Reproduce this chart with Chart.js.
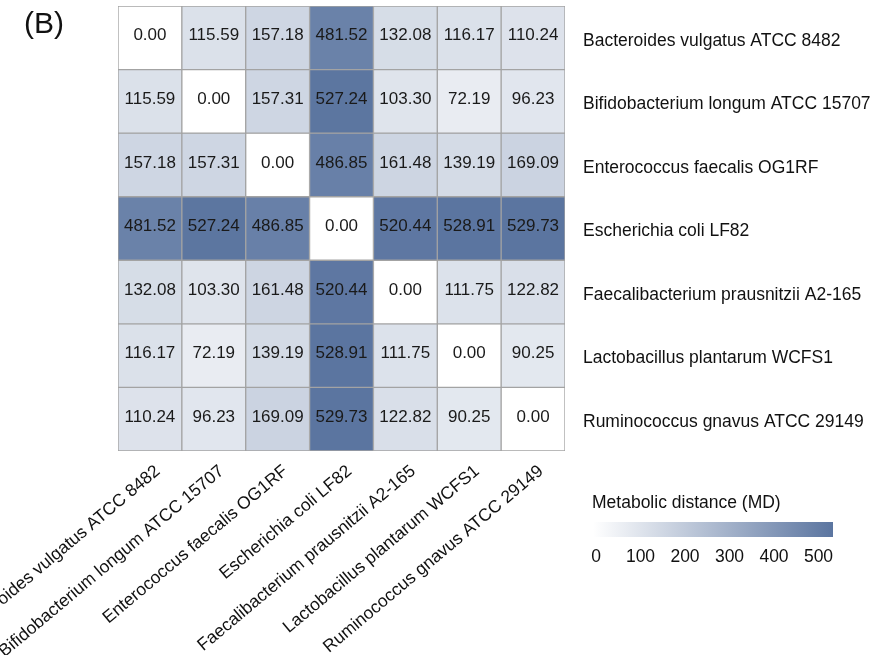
<!DOCTYPE html>
<html>
<head>
<meta charset="utf-8">
<script src="https://cdn.jsdelivr.net/npm/chart.js@4/dist/chart.umd.min.js"></script>
<style>
  html, body { margin: 0; padding: 0; background: #fff; }
  #wrap { position: relative; width: 892px; height: 655px; }
</style>
</head>
<body>
<div id="wrap"><canvas id="mdHeatmap"></canvas></div>
<script>
const strains = [
  'Bacteroides vulgatus ATCC 8482',
  'Bifidobacterium longum ATCC 15707',
  'Enterococcus faecalis OG1RF',
  'Escherichia coli LF82',
  'Faecalibacterium prausnitzii A2-165',
  'Lactobacillus plantarum WCFS1',
  'Ruminococcus gnavus ATCC 29149'
]

// metabolic distance, one row per strain
const mdBacteroides  = [0.00, 115.59, 157.18, 481.52, 132.08, 116.17, 110.24]
const mdBifido       = [115.59, 0.00, 157.31, 527.24, 103.30, 72.19, 96.23]
const mdEnterococcus = [157.18, 157.31, 0.00, 486.85, 161.48, 139.19, 169.09]
const mdEcoli        = [481.52, 527.24, 486.85, 0.00, 520.44, 528.91, 529.73]
const mdFaecali      = [132.08, 103.30, 161.48, 520.44, 0.00, 111.75, 122.82]
const mdLacto        = [116.17, 72.19, 139.19, 528.91, 111.75, 0.00, 90.25]
const mdRumino       = [110.24, 96.23, 169.09, 529.73, 122.82, 90.25, 0.00]

const mdRows = [mdBacteroides, mdBifido, mdEnterococcus, mdEcoli, mdFaecali, mdLacto, mdRumino]

const legendTicks = [0, 100, 200, 300, 400, 500]
const legendTitle = 'Metabolic distance (MD)'
const panelTag = '(B)'

const FONT = "'Liberation Sans', Arial, sans-serif"
const colorMax = 530
const lowCol = [255, 255, 255]
const highCol = [91, 117, 160]

function mdColor(v) {
  const t = Math.max(0, Math.min(1, v / colorMax))
  const c = lowCol.map((lo, k) => Math.round(lo + (highCol[k] - lo) * t))
  return `rgb(${c[0]},${c[1]},${c[2]})`
}

const datasets = mdRows.map((row, i) => ({
  label: strains[i],
  data: row.map(() => [i, i + 1]),
  md: row,
  backgroundColor: row.map(mdColor),
  borderColor: '#a3a3a3',
  borderWidth: 1,
  borderSkipped: false,
  barPercentage: 1,
  categoryPercentage: 1
}))

// numbers inside the cells
const cellText = {
  id: 'cellText',
  afterDatasetsDraw(chart) {
    const c = chart.ctx
    c.save()
    c.font = `17px ${FONT}`
    c.fillStyle = '#1a1a1a'
    c.textAlign = 'center'
    c.textBaseline = 'middle'
    chart.data.datasets.forEach((ds, i) => {
      chart.getDatasetMeta(i).data.forEach((el, j) => {
        const p = el.getCenterPoint()
        c.fillText(ds.md[j].toFixed(2), p.x, p.y - 2)
      })
    })
    c.restore()
  }
}

// colour bar + panel letter
const colorBar = {
  id: 'colorBar',
  afterDraw(chart) {
    const c = chart.ctx
    const a = chart.chartArea
    const x0 = a.right + 28
    const w = 240
    const top = 522
    const h = 15
    c.save()
    const g = c.createLinearGradient(x0, 0, x0 + w, 0)
    g.addColorStop(0, mdColor(0))
    g.addColorStop(1, mdColor(colorMax))
    c.fillStyle = g
    c.fillRect(x0, top, w, h)

    c.fillStyle = '#111'
    c.font = `17.5px ${FONT}`
    c.textBaseline = 'middle'
    c.textAlign = 'left'
    c.fillText(legendTitle, x0 - 1, top - 19)
    c.textAlign = 'center'
    legendTicks.forEach(v => {
      c.fillText(String(v), x0 + 3 + v / 500 * 222.5, top + 35)
    })

    c.font = `30px ${FONT}`
    c.textAlign = 'left'
    c.fillText(panelTag, 24, 25)
    c.restore()
  }
}

new Chart(document.getElementById('mdHeatmap'), {
  type: 'bar',
  data: { labels: strains, datasets: datasets },
  options: {
    responsive: true,
    maintainAspectRatio: false,
    animation: false,
    layout: { padding: { left: 118, top: 6, right: 0, bottom: 0 } },
    plugins: { legend: { display: false }, tooltip: { enabled: false } },
    scales: {
      x: {
        stacked: true,
        grid: { display: false },
        border: { display: false },
        ticks: {
          autoSkip: false,
          minRotation: 40,
          maxRotation: 40,
          padding: 2,
          labelOffset: 8,
          color: '#111',
          font: { family: FONT, size: 17.5 }
        },
        afterFit(scale) {
          scale.height = 204
          scale.paddingLeft = 0
          scale.paddingRight = 0
        }
      },
      y: {
        position: 'right',
        min: 0,
        max: 7,
        reverse: true,
        grid: { display: false, drawTicks: false },
        border: { display: false },
        afterBuildTicks(scale) {
          scale.ticks = strains.map((s, i) => ({ value: i + 0.5 }))
        },
        ticks: {
          padding: 18,
          labelOffset: 3,
          color: '#111',
          font: { family: FONT, size: 17.5 },
          callback: v => strains[Math.floor(v)]
        },
        afterFit(scale) {
          scale.width = 327
          scale.paddingTop = 0
          scale.paddingBottom = 0
        }
      }
    }
  },
  plugins: [cellText, colorBar]
})
</script>
</body>
</html>
